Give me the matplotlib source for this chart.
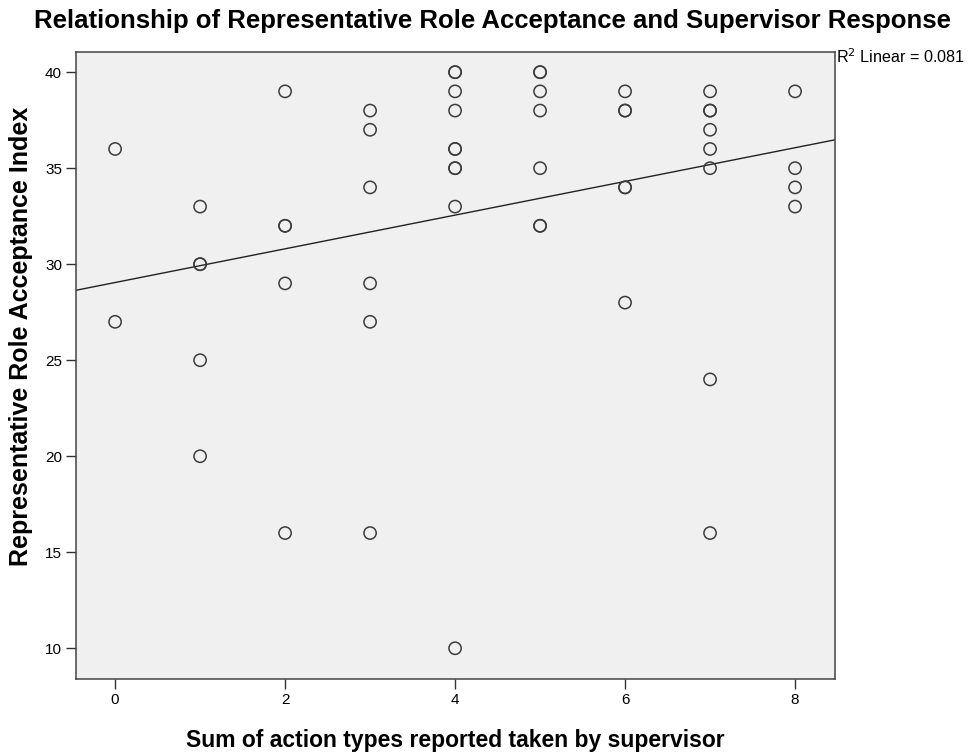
import numpy as np
import matplotlib.pyplot as plt

# Sum of supervisor action types (x) and role acceptance index (y), one entry per respondent
actions = [0, 0,
           1, 1, 1, 1, 1,
           2, 2, 2, 2, 2,
           3, 3, 3, 3, 3, 3,
           4, 4, 4, 4, 4, 4, 4, 4, 4, 4,
           5, 5, 5, 5, 5, 5, 5,
           6, 6, 6, 6, 6, 6,
           7, 7, 7, 7, 7, 7, 7, 7,
           8, 8, 8, 8]
acceptance = [36, 27,
              33, 30, 30, 25, 20,
              39, 32, 32, 29, 16,
              38, 37, 34, 29, 27, 16,
              40, 40, 39, 38, 36, 36, 35, 35, 33, 10,
              40, 40, 39, 38, 35, 32, 32,
              39, 38, 38, 34, 34, 28,
              39, 38, 38, 37, 36, 35, 24, 16,
              39, 35, 34, 33]
x_ticks = [0, 2, 4, 6, 8]
y_ticks = [10, 15, 20, 25, 30, 35, 40]
r2_label = "0.081"

plt.rcParams["font.family"] = ["Liberation Sans", "DejaVu Sans"]

x = np.array(actions, dtype=float)
y = np.array(acceptance, dtype=float)
slope, intercept = np.polyfit(x, y, 1)

W, H = 968, 752
fig = plt.figure(figsize=(W / 100, H / 100), dpi=100)
ax = fig.add_axes([76 / W, 1 - 679 / H, (835 - 76) / W, (679 - 52) / H])
ax.set_facecolor("#f0f0f0")

ax.scatter(x, y, s=78, facecolors="none", edgecolors="#3c3c3c", linewidths=1.1, zorder=3)

# fitted least-squares line across the full x range
xlim = (-0.46, 8.47)
line_x = np.array(xlim)
ax.plot(line_x, intercept + slope * line_x, color="#222222", linewidth=1.0, zorder=2)

ax.set_xlim(*xlim)
ax.set_ylim(8.4, 41.05)
ax.set_xticks(x_ticks)
ax.set_yticks(y_ticks)
ax.tick_params(direction="out", length=7, width=1.0, color="#333333", labelsize=11, pad=3)
for side in ax.spines.values():
    side.set_color("#444444")
    side.set_linewidth(1.1)

fig.text(455 / W, 1 - 740 / H, "Sum of action types reported taken by supervisor",
         fontsize=16.5, fontweight="bold", ha="center", va="center")
fig.text(21 / W, 1 - 336 / H, "Representative Role Acceptance Index",
         fontsize=18, fontweight="bold", rotation=90, ha="center", va="center")
fig.text(492 / W, 1 - 21 / H,
         "Relationship of Representative Role Acceptance and Supervisor Response",
         fontsize=18.5, fontweight="bold", ha="center", va="center")
fig.text(836 / W, 1 - 57 / H, "R$^2$ Linear = " + r2_label, fontsize=11.6,
         ha="left", va="center")

fig.savefig("out.png", dpi=100, facecolor="white")
